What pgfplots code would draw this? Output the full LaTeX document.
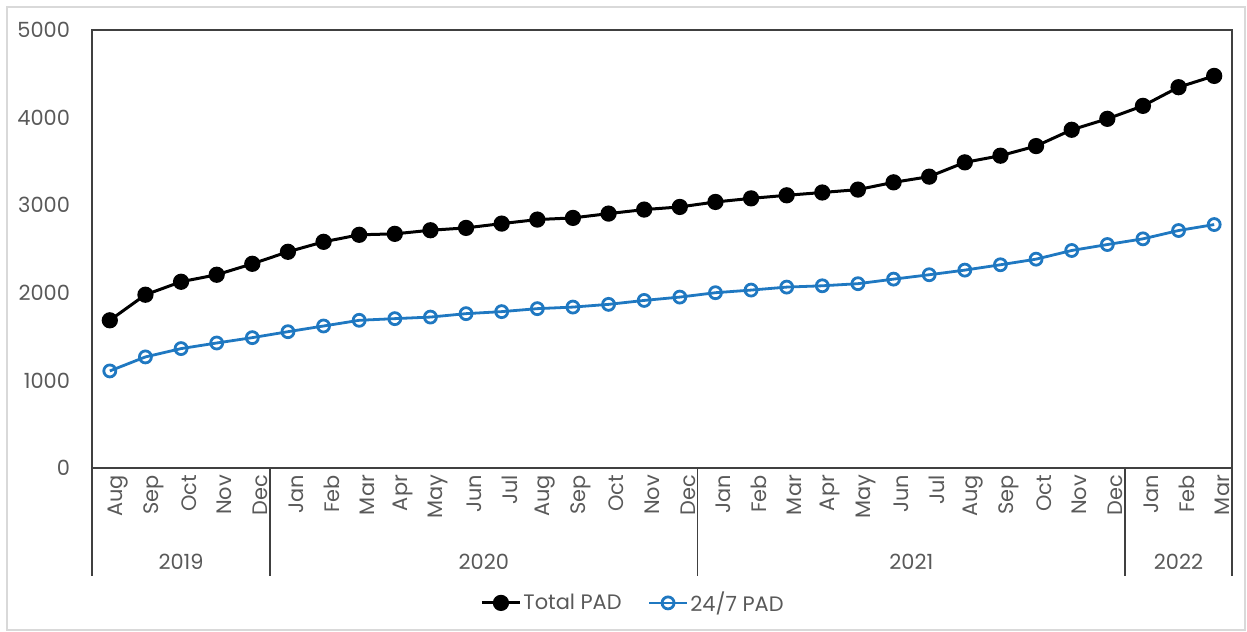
\documentclass[border=0pt]{standalone}
\usepackage{fontspec}
\setmainfont{Poppins}
\usepackage{pgfplots}
\pgfplotsset{compat=1.18}
\definecolor{padblue}{HTML}{1F78C1}
\definecolor{txt}{HTML}{595959}
\definecolor{frame}{HTML}{404040}
\definecolor{outer}{HTML}{D9D9D9}

\begin{document}
\begin{tikzpicture}
\useasboundingbox (0bp,0bp) rectangle (623.5bp,316bp);
\draw[outer, line width=0.75bp] (3.5bp,1bp) rectangle (622.5bp,312.5bp);
\begin{axis}[
  at={(46bp,82bp)}, anchor=south west,
  scale only axis, width=570bp, height=219bp,
  xmin=-0.5, xmax=31.5, ymin=0, ymax=5000,
  ytick={0,1000,...,5000},
  xtick={0,...,31},
  xticklabels={Aug,Sep,Oct,Nov,Dec,Jan,Feb,Mar,Apr,May,Jun,Jul,Aug,Sep,Oct,Nov,Dec,Jan,Feb,Mar,Apr,May,Jun,Jul,Aug,Sep,Oct,Nov,Dec,Jan,Feb,Mar},
  major tick length=0,
  axis line style={frame, line width=0.75bp},
  tick label style={font=\fontsize{10.5}{12}\selectfont, text=txt},
  /pgf/number format/assume math mode=true,
  /pgf/number format/1000 sep={},
  yticklabel style={xshift=-7.5bp},
  xticklabel style={rotate=90, anchor=east, yshift=-4bp},
  clip=false,
  legend style={at={(0.4746,-0.308)}, anchor=center, draw=none, fill=none,
    legend columns=2, font=\fontsize{10.5}{12}\selectfont, text=txt,
    nodes={inner xsep=1bp},
    /tikz/every even column/.append style={column sep=12bp},
    inner sep=0pt},
  legend image code/.code={%
    \draw[mark repeat=2,mark phase=2,#1] plot coordinates {(0bp,0bp) (9.5bp,0bp) (19bp,0bp)};},
]
\addplot[black, line width=1.5bp, mark=*, mark size=3.3bp, mark options={fill=black}]
coordinates {
(0,1686) (1,1978) (2,2126) (3,2206) (4,2331) (5,2468) (6,2582) (7,2662)
(8,2673) (9,2714) (10,2741) (11,2790) (12,2836) (13,2855) (14,2904) (15,2950)
(16,2980) (17,3037) (18,3078) (19,3113) (20,3145) (21,3178) (22,3261) (23,3326)
(24,3489) (25,3565) (26,3675) (27,3861) (28,3986) (29,4134) (30,4347) (31,4476)
};
\addlegendentry{Total PAD}
\addplot[padblue, line width=1.4bp, mark=o, mark size=3bp, mark options={fill=white, line width=1.4bp}]
coordinates {
(0,1108) (1,1268) (2,1363) (3,1427) (4,1488) (5,1556) (6,1621) (7,1686)
(8,1705) (9,1723) (10,1762) (11,1785) (12,1819) (13,1837) (14,1868) (15,1913)
(16,1951) (17,2001) (18,2031) (19,2065) (20,2080) (21,2104) (22,2156) (23,2206)
(24,2259) (25,2320) (26,2384) (27,2483) (28,2551) (29,2616) (30,2711) (31,2779)
};
\addlegendentry{24/7 PAD}
% year grouping below the month labels
\draw[frame, line width=0.75bp] (axis cs:-0.5,0) -- ++(0bp,-54bp);
\draw[frame, line width=0.75bp] (axis cs:4.5,0) -- ++(0bp,-54bp);
\draw[frame, line width=0.75bp] (axis cs:16.5,0) -- ++(0bp,-54bp);
\draw[frame, line width=0.75bp] (axis cs:28.5,0) -- ++(0bp,-54bp);
\draw[frame, line width=0.75bp] (axis cs:31.5,0) -- ++(0bp,-54bp);
\node[text=txt, font=\fontsize{10.5}{12}\selectfont] at ([yshift=-47bp]axis cs:2,0) {2019};
\node[text=txt, font=\fontsize{10.5}{12}\selectfont] at ([yshift=-47bp]axis cs:10.5,0) {2020};
\node[text=txt, font=\fontsize{10.5}{12}\selectfont] at ([yshift=-47bp]axis cs:22.5,0) {2021};
\node[text=txt, font=\fontsize{10.5}{12}\selectfont] at ([yshift=-47bp]axis cs:30,0) {2022};
\end{axis}
\end{tikzpicture}
\end{document}
